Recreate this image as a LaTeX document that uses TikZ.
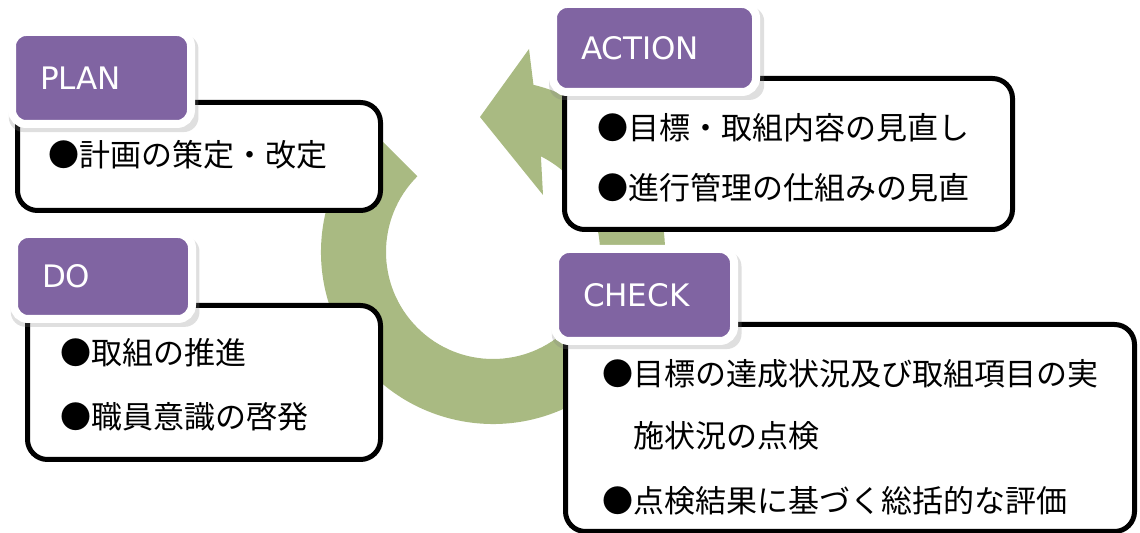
\documentclass[tikz,border=0pt]{standalone}
\usepackage{fontspec}
\setmainfont{DejaVu Sans}
\newfontfamily\jpfont{Noto Sans CJK JP}
\usetikzlibrary{shadows}
\definecolor{tagpurple}{RGB}{128,100,162}
\definecolor{cyclegreen}{RGB}{169,186,130}

\begin{document}
\begin{tikzpicture}[x=0.5pt, y=-0.5pt,
    tag node/.style={rectangle, rounded corners=7pt, fill=tagpurple, draw=white, line width=4pt, text=white, align=left, inner xsep=14pt, inner ysep=0pt, font=\fontsize{15.5pt}{18pt}\selectfont, drop shadow={shadow xshift=1pt, shadow yshift=-2.5pt, shadow scale=1.06, opacity=0.25}},
    box node/.style={rectangle, rounded corners=10pt, draw=black, line width=2.5pt, fill=white},
    item/.style={anchor=west, inner sep=0pt, font=\jpfont\fontsize{15.5pt}{18pt}\selectfont}]
    \useasboundingbox (0,0) rectangle (1140,533);

    % the cycle arrow behind the boxes
    \coordinate (ctr) at (493,252);
    \fill[cyclegreen] ([shift={(225:172)}]ctr) -- ([shift={(225:107)}]ctr)
        arc[start angle=225, end angle=-63.4, radius=107]
        -- (543,195) -- (480,117) -- (529,49)
        -- ([shift={(-76.4:172)}]ctr)
        arc[start angle=-76.4, end angle=225, radius=172] -- cycle;

    % text boxes
    \node[box node, minimum width=181.5pt, minimum height=54pt] (planbox) at (199,156.5) {};
    \node[box node, minimum width=176.5pt, minimum height=77pt] (dobox) at (204,382.5) {};
    \node[box node, minimum width=224pt, minimum height=75.5pt] (actbox) at (788.5,154) {};
    \node[box node, minimum width=284.5pt, minimum height=103.5pt] (chkbox) at (850,428) {};

    % tags
    \node[tag node, text width=61.5pt, minimum height=46pt] (plan) at (101.5,78) {PLAN};
    \node[tag node, text width=61pt, minimum height=42.5pt] (do) at (103,276.5) {DO};
    \node[tag node, text width=73.5pt, minimum height=44pt] (act) at (654.5,48) {ACTION};
    \node[tag node, text width=61.5pt, minimum height=46pt] (chk) at (644.5,295) {CHECK};

    % items
    \node[item] (plan1) at (48,155) {●計画の策定・改定};
    \node[item] (do1) at (60,353) {●取組の推進};
    \node[item] (do2) at (60,417) {●職員意識の啓発};
    \node[item] (act1) at (597,128) {●目標・取組内容の見直し};
    \node[item] (act2) at (597,188) {●進行管理の仕組みの見直};
    \node[item] (chk1) at (602,374) {●目標の達成状況及び取組項目の実};
    \node[item] (chk2) at (602,436) {\phantom{●}施状況の点検};
    \node[item] (chk3) at (602,501) {●点検結果に基づく総括的な評価};
\end{tikzpicture}
\end{document}
